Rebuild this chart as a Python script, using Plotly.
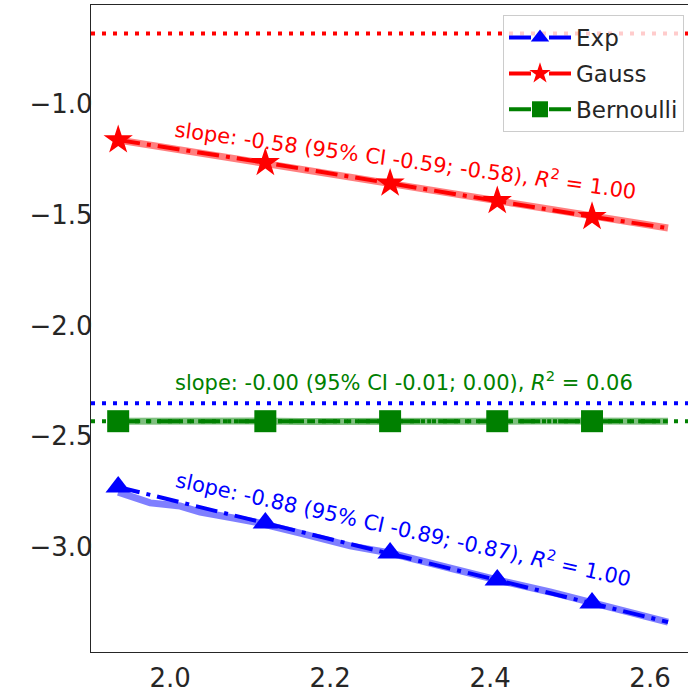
import plotly.graph_objects as go

# ---- data ----
x_fit = [1.935, 2.119, 2.275, 2.409, 2.5275, 2.6225]
exp_fit = [-2.729, -2.892, -3.027, -3.149, -3.253, -3.339]
gauss_fit = [-1.1625, -1.265, -1.358, -1.437, -1.509, -1.560]
bern_fit = [-2.432, -2.432, -2.432, -2.432, -2.432, -2.432]

x_curve = [1.935, 1.975, 2.0125, 2.0375, 2.079, 2.106, 2.1625, 2.225, 2.275,
           2.3375, 2.409, 2.475, 2.5275, 2.575, 2.6225]
exp_curve = [-2.752, -2.801, -2.815, -2.842, -2.869, -2.887, -2.937, -2.995,
             -3.027, -3.086, -3.149, -3.203, -3.253, -3.293, -3.339]
gauss_curve = [-1.1625, -1.186, -1.207, -1.222, -1.244, -1.258, -1.290, -1.327,
               -1.356, -1.392, -1.436, -1.474, -1.508, -1.532, -1.560]
bern_curve = [-2.432, -2.431, -2.430, -2.428, -2.424, -2.431, -2.433, -2.431,
              -2.432, -2.430, -2.432, -2.431, -2.432, -2.433, -2.432]

hlines = {"Gauss": -0.682, "Exp": -2.351, "Bernoulli": -2.432}

labels = {
    "Gauss": "slope: -0.58 (95% CI -0.59; -0.58), <i>R</i><sup>2</sup> = 1.00",
    "Bernoulli": "slope: -0.00 (95% CI -0.01; 0.00), <i>R</i><sup>2</sup> = 0.06",
    "Exp": "slope: -0.88 (95% CI -0.89; -0.87), <i>R</i><sup>2</sup> = 1.00",
}
label_pos = {"Gauss": (2.294, -1.250), "Bernoulli": (2.292, -2.251), "Exp": (2.292, -2.915)}
label_angle = {"Gauss": 7.7, "Bernoulli": 0, "Exp": 12.4}

series = [
    ("Exp", exp_fit, exp_curve, "#0000ff", "rgba(0,0,255,0.5)", "triangle-up", 22),
    ("Gauss", gauss_fit, gauss_curve, "#ff0000", "rgba(255,0,0,0.5)", "star", 22),
    ("Bernoulli", bern_fit, bern_curve, "#008000", "rgba(0,128,0,0.5)", "square", 22),
]

FONT = "DejaVu Sans"
fig = go.Figure()

for name, fit, curve, col, light, sym, msz in series:
    fig.add_trace(go.Scatter(
        x=x_curve, y=curve, mode="lines", showlegend=False, hoverinfo="skip",
        line=dict(color=light, width=7),
    ))

for name, fit, curve, col, light, sym, msz in series:
    sizes = [msz] * (len(x_fit) - 1) + [0]
    fig.add_trace(go.Scatter(
        x=x_fit, y=fit, mode="lines+markers", name=name, legendgroup=name,
        line=dict(color=col, width=4, dash="22px,7px,4px,7px"),
        marker=dict(symbol=sym, size=sizes, color=col, opacity=1,
                    line=dict(width=0)),
    ))

shapes = []
for name, fit, curve, col, light, sym, msz in series:
    shapes.append(dict(
        type="line", xref="paper", x0=0, x1=1, yref="y",
        y0=hlines[name], y1=hlines[name],
        line=dict(color=col, width=4, dash="4px,7px"), layer="above",
    ))

annotations = []
for name, fit, curve, col, light, sym, msz in series:
    ax, ay = label_pos[name]
    annotations.append(dict(
        x=ax, y=ay, xref="x", yref="y", text=labels[name], showarrow=False,
        textangle=label_angle[name], xanchor="center", yanchor="middle",
        font=dict(family=FONT, size=21, color=col),
    ))

fig.update_layout(
    width=688, height=693,
    margin=dict(l=91, r=0, t=5, b=41, autoexpand=False),
    paper_bgcolor="white", plot_bgcolor="white",
    font=dict(family=FONT, color="#262626"),
    shapes=shapes, annotations=annotations,
    legend=dict(
        x=0.9933, y=0.9845, xanchor="right", yanchor="top",
        bgcolor="rgba(255,255,255,0.8)", bordercolor="#cccccc", borderwidth=1,
        font=dict(family=FONT, size=23, color="#262626"),
        itemwidth=62, traceorder="grouped", tracegroupgap=3,
    ),
    xaxis=dict(
        range=[1.901, 2.6475], tickvals=[2.0, 2.2, 2.4, 2.6],
        ticktext=["2.0", "2.2", "2.4", "2.6"],
        showgrid=False, zeroline=False, showline=True, linecolor="#262626",
        linewidth=1.25, mirror=True, ticks="", ticklabelstandoff=3,
        tickfont=dict(family=FONT, size=26, color="#262626"),
    ),
    yaxis=dict(
        range=[-3.474, -0.553], tickvals=[-3.0, -2.5, -2.0, -1.5, -1.0],
        tickformat=".1f",
        showgrid=False, zeroline=False, showline=True, linecolor="#262626",
        linewidth=1.25, ticks="", ticklabelstandoff=-8,
        tickfont=dict(family=FONT, size=26, color="#262626"),
    ),
)

fig.write_html("out.html", config={"displayModeBar": False},
               post_script="document.body.style.margin='0px';")
